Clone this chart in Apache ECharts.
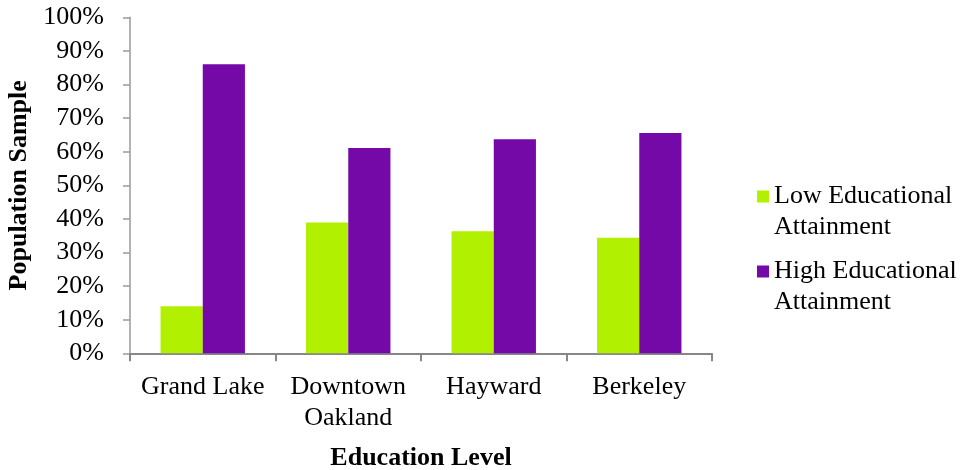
<!DOCTYPE html>
<html>
<head>
<meta charset="utf-8">
<script src="https://cdn.jsdelivr.net/npm/echarts@6/dist/echarts.min.js"></script>
<style>
  html, body { margin: 0; padding: 0; background: #fff; }
  #chart { width: 966px; height: 470px; }
</style>
</head>
<body>
<div id="chart"></div>
<script>
// Share of each area's sample by educational attainment (percent)
const areas = ['Grand Lake', 'Downtown\nOakland', 'Hayward', 'Berkeley'];
const seriesNames = ['Low Educational\nAttainment', 'High Educational\nAttainment'];
const lowAttainment = [14.0, 38.9, 36.3, 34.4];
const highAttainment = [86.0, 61.1, 63.7, 65.6];
const seriesColors = ['#B0F000', '#7509A8'];

const FONT = '"Liberation Serif", "Times New Roman", serif';
const SIZE = 26;

const chart = echarts.init(document.getElementById('chart'), null, { renderer: 'canvas' });

chart.setOption({
  animation: false,
  backgroundColor: '#ffffff',
  textStyle: { fontFamily: FONT, color: '#000' },
  grid: {
    left: 130, right: 254, top: 17.3, bottom: 116.7,
    containLabel: false,
    outerBoundsMode: 'none'
  },
  legend: {
    orient: 'vertical',
    left: 757,
    top: 150,
    padding: 0,
    itemGap: -18,
    itemWidth: 12,
    itemHeight: 12,
    icon: 'rect',
    data: seriesNames,
    // leading blank line keeps the icon level with the first text line
    formatter: name => '\n' + name,
    textStyle: {
      fontFamily: FONT,
      fontSize: SIZE,
      color: '#000',
      lineHeight: 31
    }
  },
  xAxis: {
    type: 'category',
    data: areas,
    name: 'Education Level',
    nameLocation: 'middle',
    nameGap: 92,
    nameTextStyle: { fontFamily: FONT, fontSize: SIZE, fontWeight: 'bold', color: '#000' },
    axisLine: { lineStyle: { color: '#878787', width: 2 } },
    axisTick: { show: true, length: 8, lineStyle: { color: '#878787', width: 2 } },
    axisLabel: {
      fontFamily: FONT, fontSize: SIZE, color: '#000',
      lineHeight: 31, margin: 18, interval: 0
    },
    splitLine: { show: false }
  },
  yAxis: {
    type: 'value',
    min: 0,
    max: 100,
    interval: 10,
    name: 'Population Sample',
    nameLocation: 'middle',
    nameGap: 92,
    nameRotate: 90,
    nameTextStyle: { fontFamily: FONT, fontSize: SIZE, fontWeight: 'bold', color: '#000' },
    axisLine: { show: true, lineStyle: { color: '#9a9a9a', width: 1.5 } },
    axisTick: { show: true, length: 7, lineStyle: { color: '#9a9a9a', width: 1.5 } },
    axisLabel: {
      fontFamily: FONT, fontSize: SIZE, color: '#000', margin: 26,
      formatter: '{value}%'
    },
    splitLine: { show: false }
  },
  series: [
    {
      name: seriesNames[0],
      type: 'bar',
      data: lowAttainment,
      itemStyle: { color: seriesColors[0] },
      barGap: '0%',
      barCategoryGap: '42%'
    },
    {
      name: seriesNames[1],
      type: 'bar',
      data: highAttainment,
      itemStyle: { color: seriesColors[1] },
      barGap: '0%',
      barCategoryGap: '42%'
    }
  ]
});
</script>
</body>
</html>
